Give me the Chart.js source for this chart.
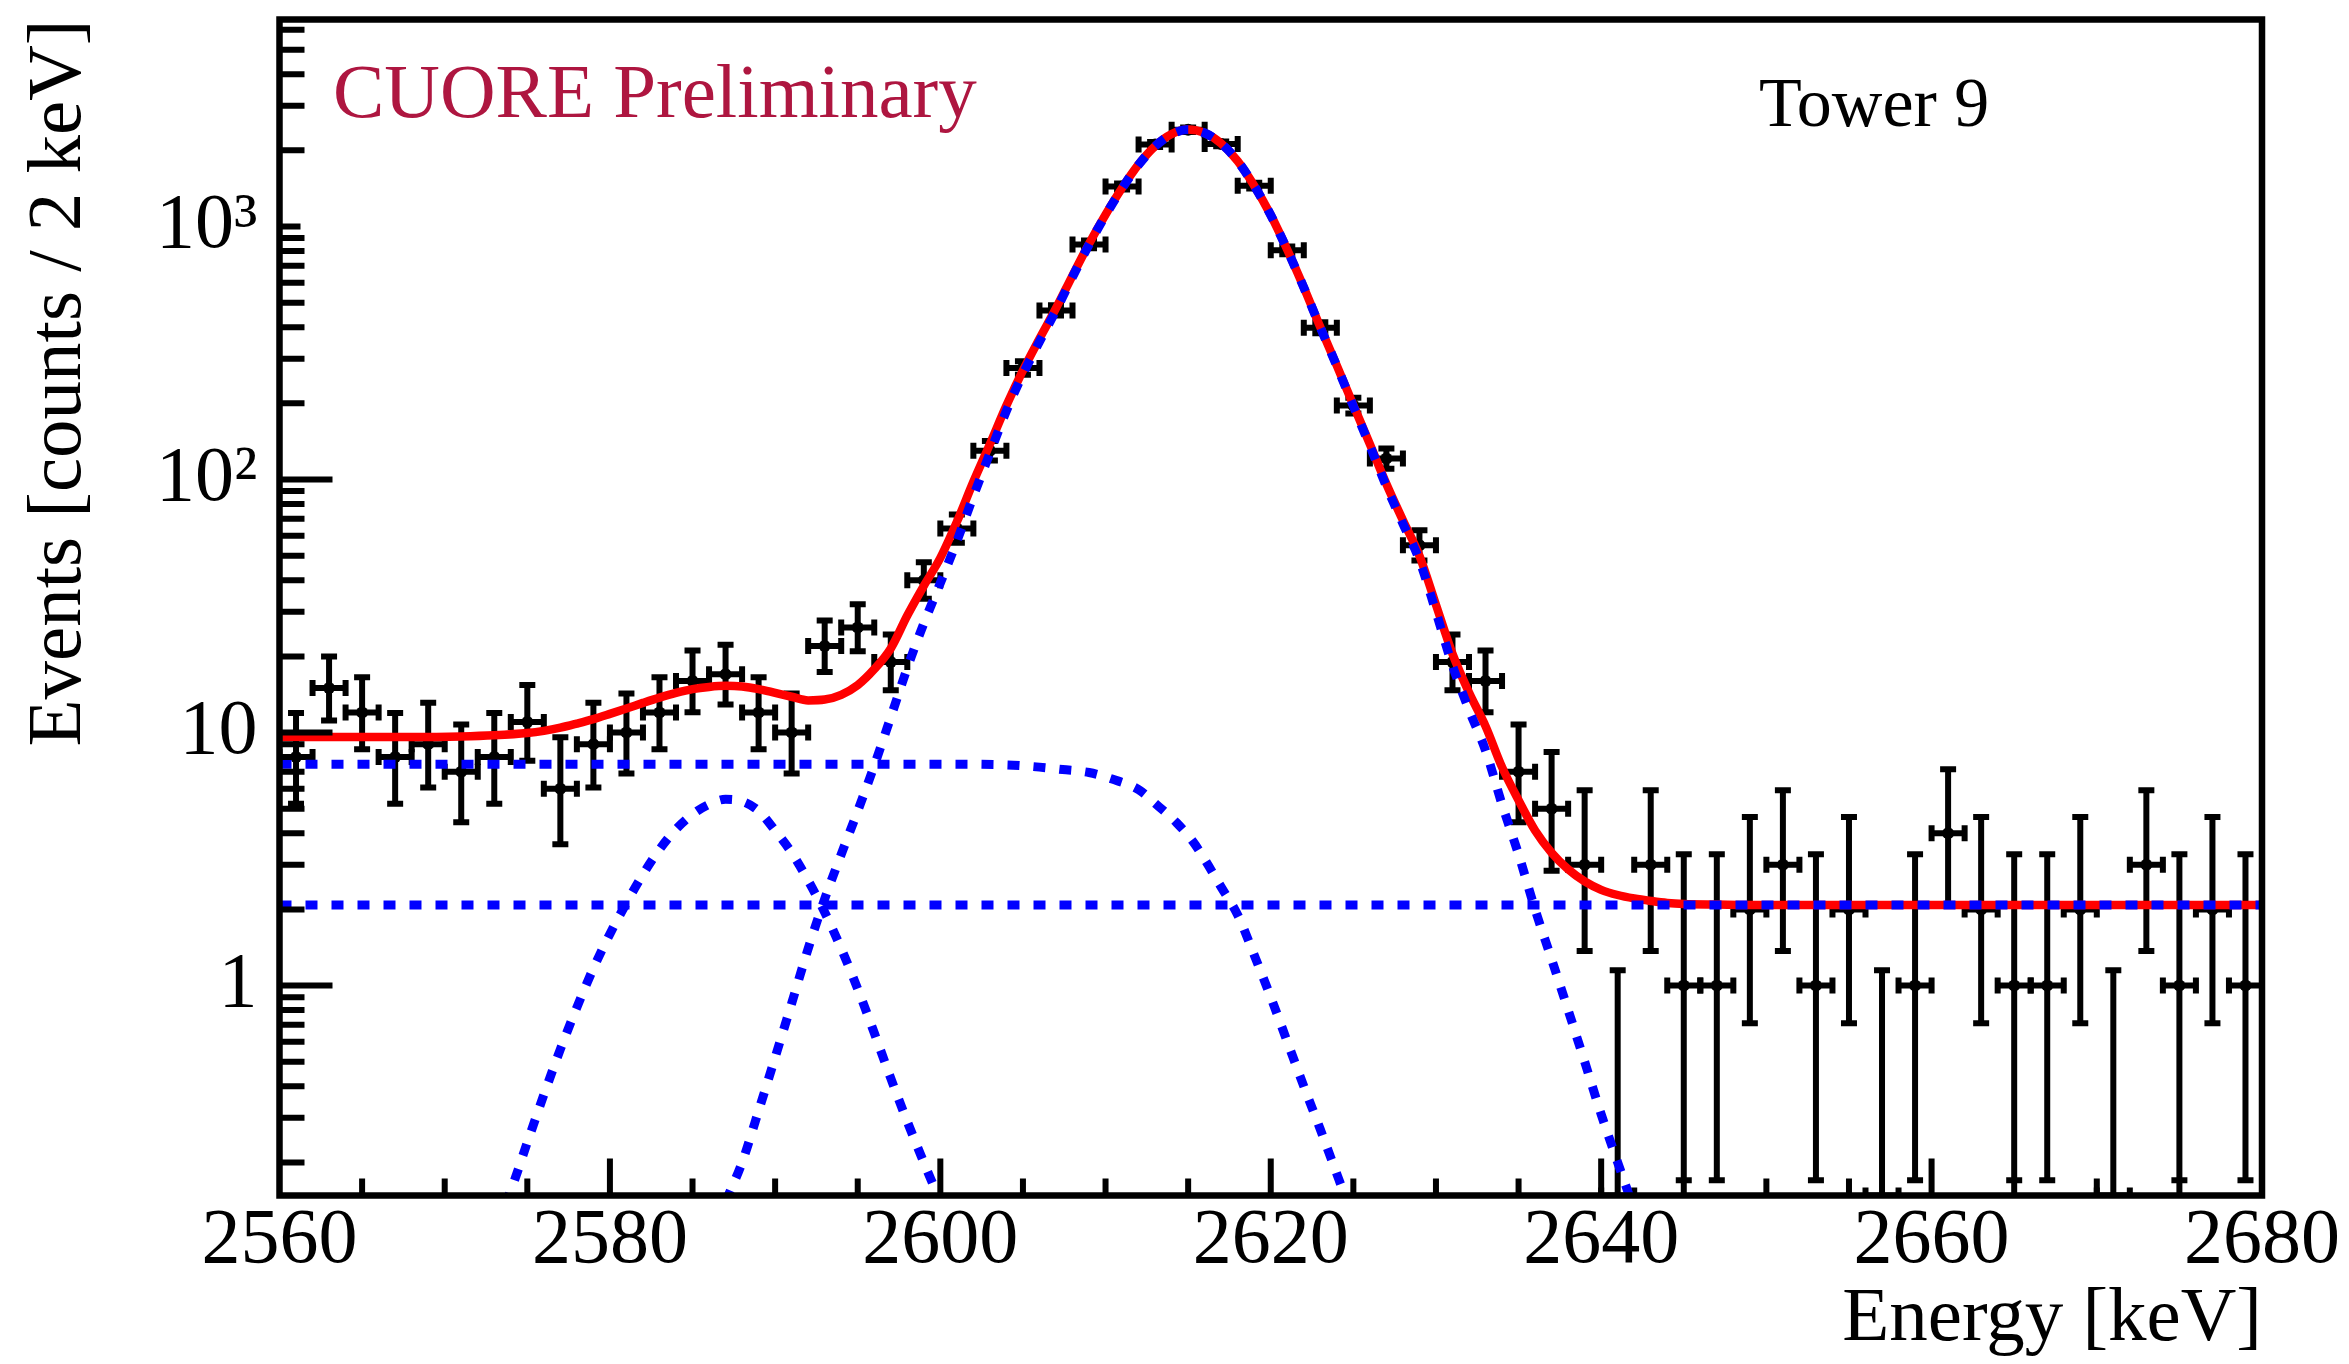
<!DOCTYPE html>
<html>
<head>
<meta charset="utf-8">
<title>CUORE Tower 9 - 2615 keV peak</title>
<script src="https://cdn.jsdelivr.net/npm/chart.js@4.4.1/dist/chart.umd.min.js"></script>
<style>
  html, body { margin: 0; padding: 0; background: #fff; }
  canvas { display: block; }
</style>
</head>
<body>
<canvas id="peakChart" width="2349" height="1364"></canvas>
<script>
// histogram: 2 keV bins, centre energies [keV]
const binWidth = 2
const binCenters = [
  2561, 2563, 2565, 2567, 2569, 2571, 2573, 2575, 2577, 2579,
  2581, 2583, 2585, 2587, 2589, 2591, 2593, 2595, 2597, 2599,
  2601, 2603, 2605, 2607, 2609, 2611, 2613, 2615, 2617, 2619,
  2621, 2623, 2625, 2627, 2629, 2631, 2633, 2635, 2637, 2639,
  2641, 2643, 2645, 2647, 2649, 2651, 2653, 2655, 2657, 2659,
  2661, 2663, 2665, 2667, 2669, 2671, 2673, 2675, 2677, 2679
]
const counts = [
  8, 15, 12, 8, 9, 7, 8, 11, 6, 9,
  10, 12, 16, 17, 12, 10, 22, 26, 19, 40,
  64, 130, 276, 466, 850, 1440, 2110, 2410, 2120, 1450,
  805, 398, 196, 121, 55, 19, 16, 7, 5, 3,
  0, 3, 1, 1, 2, 3, 1, 2, 0, 1,
  4, 2, 1, 1, 2, 0, 3, 1, 2, 1
]
// lower / upper ends of the error bars
const errLow = [
  5.23, 11.17, 8.59, 5.23, 6.06, 4.42, 5.23, 7.73, 3.62, 6.06,
  6.89, 8.59, 12.04, 12.92, 8.59, 6.89, 17.37, 20.98, 14.69, 33.8,
  56.3, 118.9, 259.7, 444.9, 821, 1402, 2064, 2361, 2074, 1412,
  777, 378.4, 182.3, 110.3, 47.9, 14.69, 12.04, 4.42, 2.84, 1.37,
  0, 1.37, 0.17, 0.17, 0.71, 1.37, 0.17, 0.71, 0, 0.17,
  2.09, 0.71, 0.17, 0.17, 0.71, 0, 1.37, 0.17, 0.71, 0.17
]
const errHigh = [
  11.95, 19.96, 16.56, 11.95, 13.11, 10.77, 11.95, 15.42, 9.58, 13.11,
  14.27, 16.56, 21.09, 22.21, 16.56, 14.27, 27.75, 32.14, 24.42, 47.1,
  72.7, 142.1, 293.3, 488.1, 880, 1479, 2157, 2460, 2167, 1489,
  834, 418.6, 210.7, 132.7, 63.1, 24.42, 21.09, 10.77, 8.38, 5.92,
  1.15, 5.92, 3.30, 3.30, 4.64, 5.92, 3.30, 4.64, 1.15, 3.30,
  7.16, 4.64, 3.30, 3.30, 4.64, 1.15, 5.92, 3.30, 4.64, 3.30
]

// total fit (red)
const totalFitE = [
  2560, 2564, 2568, 2571, 2573, 2575, 2576, 2577, 2578, 2579,
  2580, 2581, 2582, 2583, 2584, 2585, 2586, 2587, 2588, 2589,
  2590, 2591, 2592, 2593, 2594, 2595, 2596, 2597, 2598, 2599,
  2600, 2601, 2602, 2603, 2604, 2605, 2606, 2607, 2608, 2609,
  2610, 2611, 2612, 2613, 2614, 2615, 2616, 2617, 2618, 2619,
  2620, 2621, 2622, 2623, 2624, 2625, 2626, 2627, 2628, 2629,
  2630, 2631, 2632, 2633, 2634, 2635, 2636, 2637, 2638, 2639,
  2640, 2641, 2642, 2643, 2644, 2645, 2647, 2650, 2680
]
const totalFitY = [
  9.6, 9.6, 9.6, 9.65, 9.75, 9.95, 10.15, 10.45, 10.85, 11.3,
  11.85, 12.45, 13.1, 13.75, 14.35, 14.85, 15.15, 15.3, 15.2, 14.85,
  14.35, 13.85, 13.4, 13.5, 14.1, 15.4, 17.8, 21.5, 29, 38,
  49, 68, 98, 138, 196, 270, 360, 475, 640, 855,
  1115, 1420, 1760, 2080, 2320, 2420, 2345, 2130, 1815, 1450,
  1110, 810, 575, 400, 282, 197, 138, 96, 69, 50,
  32, 20.5, 14.4, 10.6, 7.3, 5.4, 4.1, 3.35, 2.88, 2.58,
  2.39, 2.28, 2.21, 2.16, 2.12, 2.1, 2.09, 2.08, 2.08
]

// fit components (blue dashed)
const flatBkgE = [2560, 2680]
const flatBkgY = [2.08, 2.08]

const comptonE = [2560, 2600, 2604, 2606, 2607.4, 2609, 2610.4, 2612, 2613, 2614.3, 2615.3, 2616, 2617, 2618, 2619, 2620, 2621, 2622, 2623, 2624, 2625]
const comptonY = [7.5, 7.5, 7.45, 7.3, 7.14, 6.95, 6.55, 5.95, 5.25, 4.4, 3.7, 3.15, 2.45, 1.9, 1.32, 0.9, 0.6, 0.4, 0.27, 0.18, 0.12]

const sumPeakE = [
  2573, 2574, 2575, 2576, 2577, 2578, 2579, 2580, 2581, 2582,
  2583, 2584, 2585, 2586, 2587, 2588, 2589, 2590, 2591, 2592,
  2593, 2594, 2595, 2596, 2597, 2598, 2599, 2600, 2601
]
const sumPeakY = [
  0.11, 0.155, 0.24, 0.37, 0.56, 0.82, 1.17, 1.6, 2.12, 2.75,
  3.45, 4.15, 4.75, 5.2, 5.45, 5.35, 4.9, 4.1, 3.35, 2.6,
  1.95, 1.4, 0.97, 0.65, 0.43, 0.29, 0.2, 0.14, 0.1
]

const mainPeakE = [
  2587, 2588, 2589, 2590, 2591, 2592, 2593, 2594, 2595, 2596,
  2597, 2598, 2599, 2600, 2601, 2602, 2603, 2604, 2605, 2606,
  2607, 2608, 2609, 2610, 2611, 2612, 2613, 2614, 2615, 2616,
  2617, 2618, 2619, 2620, 2621, 2622, 2623, 2624, 2625, 2626,
  2627, 2628, 2629, 2630, 2631, 2632, 2633, 2634, 2635, 2636,
  2637, 2638, 2639, 2640, 2641, 2642
]
const mainPeakY = [
  0.14, 0.2, 0.32, 0.52, 0.85, 1.4, 2.2, 3.3, 4.9, 7.4,
  11.5, 18, 27, 39, 57, 86, 127, 187, 261, 351,
  466, 632, 848, 1108, 1414, 1754, 2075, 2316, 2416, 2342,
  2127, 1813, 1448, 1109, 809, 574, 399, 281, 195, 136,
  94, 67, 48, 30, 18.4, 12.3, 8.5, 5.2, 3.3, 2.0,
  1.27, 0.8, 0.5, 0.31, 0.2, 0.13
]

// axis setup
const xMin = 2560
const xMax = 2680
const yMin = 0.148
const yMax = 6580
const yTickValues = [1, 10, 100, 1000]
const yTickLabels = ['1', '10', '10²', '10³']

const FONT = "'Liberation Serif', 'Times New Roman', serif"
const BLUE = '#0000ff'
const RED = '#ff0000'

const toPoints = (xs, ys) => xs.map((x, i) => ({ x: x, y: ys[i] }))

// error bars of the histogram, drawn below the fit curves
const errorBars = {
  id: 'errorBars',
  beforeDatasetsDraw(chart) {
    const { ctx, chartArea: a, scales: { x, y } } = chart
    ctx.save()
    ctx.beginPath()
    ctx.rect(a.left, a.top, a.right - a.left, a.bottom - a.top)
    ctx.clip()
    ctx.strokeStyle = '#000'
    ctx.lineWidth = 6
    const seg = (x0, y0, x1, y1) => {
      ctx.beginPath()
      ctx.moveTo(x0, y0)
      ctx.lineTo(x1, y1)
      ctx.stroke()
    }
    binCenters.forEach((c, i) => {
      const px = x.getPixelForValue(c)
      const left = x.getPixelForValue(c - binWidth / 2)
      const right = x.getPixelForValue(c + binWidth / 2)
      const py = counts[i] > 0 ? y.getPixelForValue(counts[i]) : a.bottom
      const top = y.getPixelForValue(errHigh[i])
      const bot = errLow[i] > 0 ? y.getPixelForValue(errLow[i]) : a.bottom + 6
      seg(px, top, px, bot)
      seg(px - 8, top, px + 8, top)
      seg(px - 8, bot, px + 8, bot)
      seg(left, py, right, py)
      seg(left, py - 8, left, py + 8)
      seg(right, py - 8, right, py + 8)
    })
    ctx.restore()
  }
}

// ROOT-like frame with inner ticks, plus the text labels
const frameAndText = {
  id: 'frameAndText',
  afterDraw(chart) {
    const { ctx, chartArea: a, scales: { x, y } } = chart
    ctx.save()
    ctx.strokeStyle = '#000'
    ctx.lineWidth = 6
    ctx.beginPath()
    for (let e = -1; e <= 3; e++) {
      for (let m = 1; m <= 9; m++) {
        const v = m * Math.pow(10, e)
        if (v < yMin || v > yMax) continue
        let len = 25
        if (m === 1 && e < 3) len = 53
        if (m === 1 && e === 3) len = 21
        const py = y.getPixelForValue(v)
        ctx.moveTo(a.left, py)
        ctx.lineTo(a.left + len, py)
      }
    }
    for (let e = xMin + 5; e < xMax; e += 5) {
      const len = e % 20 === 0 ? 37 : 17
      const px = x.getPixelForValue(e)
      ctx.moveTo(px, a.bottom)
      ctx.lineTo(px, a.bottom - len)
    }
    ctx.stroke()

    ctx.lineWidth = 6.5
    ctx.strokeRect(a.left, a.top, a.right - a.left, a.bottom - a.top)

    ctx.textBaseline = 'alphabetic'
    ctx.textAlign = 'left'
    ctx.fillStyle = '#ae1640'
    ctx.font = '77px ' + FONT
    ctx.fillText('CUORE Preliminary', 333, 117)
    ctx.fillStyle = '#000'
    ctx.font = '70px ' + FONT
    ctx.fillText('Tower 9', 1759, 126)
    ctx.restore()
  }
}

const blueLine = (label, xs, ys) => ({
  label: label,
  data: toPoints(xs, ys),
  borderColor: BLUE,
  borderWidth: 9,
  borderDash: [12, 14],
  pointRadius: 0,
  fill: false,
  cubicInterpolationMode: 'monotone',
  clip: 0,
  order: 1
})

const ctx = document.getElementById('peakChart')
new Chart(ctx, {
  type: 'line',
  data: {
    datasets: [
      {
        label: 'Data',
        type: 'scatter',
        data: toPoints(binCenters, counts),
        showLine: false,
        pointRadius: 6,
        pointBackgroundColor: '#000',
        pointBorderWidth: 0,
        order: 3
      },
      {
        label: 'Total fit',
        data: toPoints(totalFitE, totalFitY),
        borderColor: RED,
        borderWidth: 8.5,
        pointRadius: 0,
        fill: false,
        cubicInterpolationMode: 'monotone',
        clip: 0,
        order: 2
      },
      blueLine('Flat background', flatBkgE, flatBkgY),
      blueLine('Multi-Compton', comptonE, comptonY),
      blueLine('Sum peak', sumPeakE, sumPeakY),
      blueLine('208Tl peak', mainPeakE, mainPeakY)
    ]
  },
  options: {
    responsive: false,
    animation: false,
    events: [],
    layout: { padding: { left: 0, right: 87, top: 19.5, bottom: 0 } },
    plugins: {
      legend: { display: false },
      tooltip: { enabled: false }
    },
    scales: {
      x: {
        type: 'linear',
        min: xMin,
        max: xMax,
        afterFit: (scale) => {
          scale.height = 168.5
          scale.paddingLeft = 0
          scale.paddingRight = 0
        },
        grid: { display: false, drawTicks: false },
        border: { display: false },
        ticks: {
          stepSize: 20,
          autoSkip: false,
          maxRotation: 0,
          padding: 7,
          color: '#000',
          font: { family: FONT, size: 78, lineHeight: 1 },
          callback: (v) => String(v)
        },
        title: {
          display: true,
          text: 'Energy [keV]',
          align: 'end',
          color: '#000',
          font: { family: FONT, size: 77, lineHeight: 1 },
          padding: { top: 0, bottom: 6 }
        }
      },
      y: {
        type: 'logarithmic',
        min: yMin,
        max: yMax,
        afterFit: (scale) => {
          scale.width = 279.5
          scale.paddingTop = 0
          scale.paddingBottom = 0
        },
        afterBuildTicks: (scale) => {
          scale.ticks = yTickValues.map(v => ({ value: v }))
        },
        grid: { display: false, drawTicks: false },
        border: { display: false },
        ticks: {
          autoSkip: false,
          padding: 22,
          color: '#000',
          font: { family: FONT, size: 78, lineHeight: 1 },
          callback: (v) => yTickLabels[yTickValues.indexOf(v)]
        },
        title: {
          display: true,
          text: 'Events [counts / 2 keV]',
          align: 'end',
          color: '#000',
          font: { family: FONT, size: 77, lineHeight: 1 },
          padding: { top: 21, bottom: 0 }
        }
      }
    }
  },
  plugins: [errorBars, frameAndText]
})
</script>
</body>
</html>
